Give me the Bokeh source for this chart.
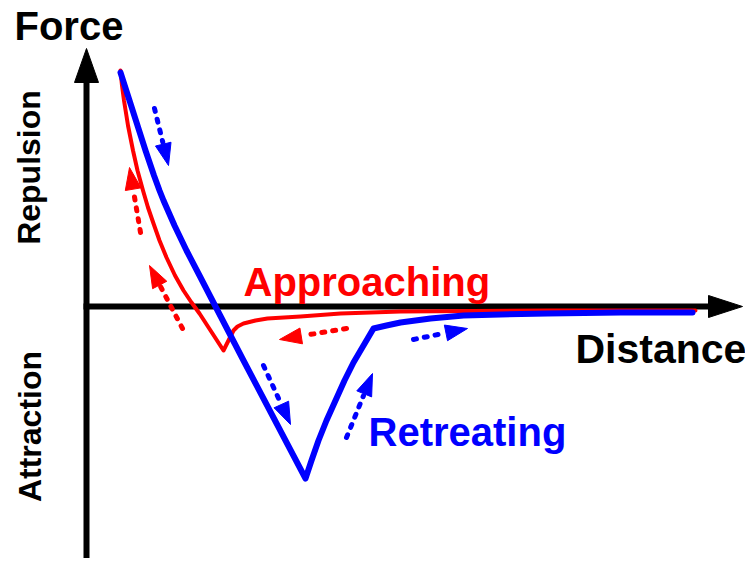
import numpy as np
from bokeh.plotting import figure
from bokeh.models import Range1d
from bokeh.core.properties import value
from bokeh.embed import file_html
from bokeh.resources import INLINE

# ---------------- data (distance, force) in schematic units ----------------
approach_distance = [34, 35.5, 37.5, 41.5, 46.5, 51, 56.5, 61.5, 67, 73, 80, 88.5, 97,
                     105, 113, 137, 147, 151, 157, 169, 181, 214, 254, 314, 464, 609]
approach_force = [236, 221, 206, 181, 156, 136, 116, 99, 83, 66, 49, 31, 16, 4, -7,
                  -44, -24, -20, -17, -14, -12, -10, -7, -5, -4, -4]

retreat_distance = [34, 43, 51, 59, 67.5, 73, 77, 88, 100, 113, 129, 157, 219,
                    225, 232, 240, 249, 258, 267, 277, 287, 300, 314, 344, 377, 414,
                    461, 534, 606]
retreat_force = [234, 206, 181, 156, 131, 116, 106, 81, 56, 31, 0, -54, -172,
                 -154, -134, -114, -94, -74, -56, -39, -22, -19, -16, -12, -9, -8,
                 -7, -6, -6]

# direction arrows: start -> tip
retreat_arrow_start_x = [68, 177, 260, 327]
retreat_arrow_start_y = [198, -59, -131, -33]
retreat_arrow_tip_x = [82, 204, 286, 381]
retreat_arrow_tip_y = [141, -118, -67, -22]

approach_arrow_start_x = [54, 96, 260]
approach_arrow_start_y = [74, -22, -22]
approach_arrow_tip_x = [43, 63, 193]
approach_arrow_tip_y = [139, 41, -33]

# axis extents
force_axis_top = 258
distance_axis_end = 656

# labels
label_texts = ["Force", "Distance", "Approaching", "Retreating"]
side_texts = ["Repulsion", "Attraction"]

RED = "#FF0000"
BLUE = "#0000FF"
FONT = value("Liberation Sans")

p = figure(width=745, height=558, x_range=Range1d(-86, 659), y_range=Range1d(-252, 306),
           output_backend="svg", toolbar_location=None, min_border=0,
           x_axis_location=None, y_axis_location=None)
p.grid.visible = False
p.outline_line_color = None
p.background_fill_color = "white"


def tri(tip_x, tip_y, ux, uy, length, width):
    bx, by = tip_x - ux * length, tip_y - uy * length
    nx, ny = -uy, ux
    return ([tip_x, bx + nx * width / 2, bx - nx * width / 2],
            [tip_y, by + ny * width / 2, by - ny * width / 2])


# ---------------- axes ----------------
ah_len = 34
p.line([0, 0], [-270, force_axis_top - ah_len + 2], line_color="black", line_width=6)
p.line([-3, distance_axis_end - ah_len + 2], [0, 0], line_color="black", line_width=6)
axs, ays = [], []
for tx, ty, ux, uy, w in [(0, force_axis_top, 0, 1, 24), (distance_axis_end, 0, 1, 0, 22)]:
    a, b = tri(tx, ty, ux, uy, ah_len, w)
    axs.append(a)
    ays.append(b)
p.patches(axs, ays, fill_color="black", line_color="black", line_width=1)

# ---------------- curves ----------------
p.line(approach_distance, approach_force, line_color=RED, line_width=4,
       line_join="round", line_cap="round")
p.line(retreat_distance, retreat_force, line_color=BLUE, line_width=6,
       line_join="round", line_cap="round")


# ---------------- dotted arrows ----------------
def draw_arrows(sx, sy, tx, ty, color):
    pxs, pys = [], []
    for x0, y0, x1, y1 in zip(sx, sy, tx, ty):
        dx, dy = x1 - x0, y1 - y0
        d = np.hypot(dx, dy)
        ux, uy = dx / d, dy / d
        L, W = 22, 16
        bx, by = x1 - ux * L, y1 - uy * L
        p.line([x0, bx - ux * 2], [y0, by - uy * 2], line_color=color, line_width=5,
               line_dash="3 8", line_cap="round")
        a, b = tri(x1, y1, ux, uy, L, W)
        pxs.append(a)
        pys.append(b)
    p.patches(pxs, pys, fill_color=color, line_color=color, line_width=1)


draw_arrows(approach_arrow_start_x, approach_arrow_start_y,
            approach_arrow_tip_x, approach_arrow_tip_y, RED)
draw_arrows(retreat_arrow_start_x, retreat_arrow_start_y,
            retreat_arrow_tip_x, retreat_arrow_tip_y, BLUE)

# ---------------- texts ----------------
p.text(x=[-72], y=[281], text=label_texts[:1], text_color="black",
       text_font=FONT, text_font_style="bold", text_font_size="40px",
       text_align="left", text_baseline="alphabetic")
p.text(x=[489], y=[-42], text=label_texts[1:2], text_color="black",
       text_font=FONT, text_font_style="bold", text_font_size="41px",
       text_align="left", text_baseline="alphabetic")
p.text(x=[157], y=[25], text=[label_texts[2]], text_color=RED,
       text_font=FONT, text_font_style="bold", text_font_size="40px",
       text_align="left", text_baseline="alphabetic")
p.text(x=[282], y=[-125], text=[label_texts[3]], text_color=BLUE,
       text_font=FONT, text_font_style="bold", text_font_size="40px",
       text_align="left", text_baseline="alphabetic")
p.text(x=[-58, -57], y=[139, -120], text=side_texts, angle=np.pi / 2,
       text_color="black", text_font=FONT, text_font_style="bold",
       text_font_size="32px", text_align="center", text_baseline="alphabetic")

open("out.html", "w").write(file_html(p, INLINE))
